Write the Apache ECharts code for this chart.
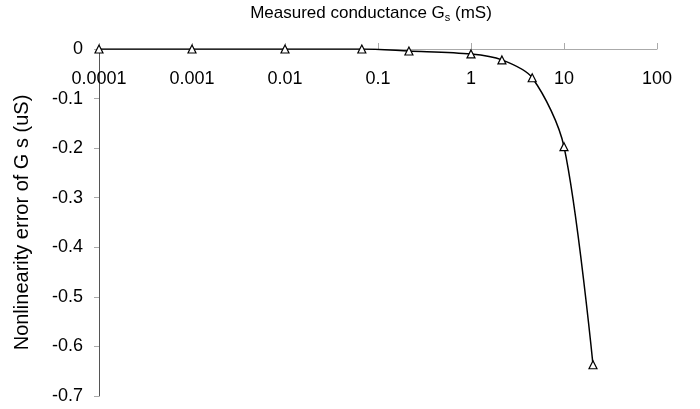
<!DOCTYPE html>
<html>
<head>
<meta charset="utf-8">
<script src="https://cdn.jsdelivr.net/npm/echarts@6/dist/echarts.min.js"></script>
<style>
  html, body { margin: 0; padding: 0; background: #fff; }
  #chart { width: 700px; height: 409px; }
</style>
</head>
<body>
<div id="chart"></div>
<script>
// conductance (mS) and nonlinearity error (uS)
const conductance = [0.0001, 0.001, 0.01, 0.067, 0.215, 1, 2.15, 4.55, 10, 20.5]
const nonlinError = [0, 0, 0, 0, -0.004, -0.01, -0.022, -0.058, -0.197, -0.637]

const chart = echarts.init(document.getElementById('chart'))
const font = '"Liberation Sans", Arial, sans-serif'

chart.setOption({
  animation: false,
  grid: {
    left: 99,
    right: 43,
    top: 47,
    bottom: 13
  },
  xAxis: {
    type: 'log',
    position: 'top',
    min: 0.0001,
    max: 100,
    logBase: 10,
    name: 'Measured conductance G{s|s} (mS)',
    nameLocation: 'middle',
    nameGap: 26,
    nameTextStyle: {
      fontFamily: font,
      fontSize: 17,
      color: '#000',
      padding: [0, 14, 0, 0],
      rich: {
        s: { fontSize: 11, verticalAlign: 'bottom', padding: [8, 0, 0, 0], fontFamily: font, color: '#000' }
      }
    },
    axisLine: { lineStyle: { color: '#aaa', width: 1 } },
    axisTick: { inside: false, length: 6, lineStyle: { color: '#aaa' } },
    axisLabel: {
      inside: true,
      margin: 21,
      fontFamily: font,
      fontSize: 18,
      color: '#000'
    },
    splitLine: { show: false },
    minorTick: { show: false }
  },
  yAxis: {
    type: 'value',
    min: -0.7,
    max: 0,
    interval: 0.1,
    name: 'Nonlinearity error of G s (uS)',
    nameLocation: 'middle',
    nameGap: 67,
    nameRotate: 90,
    nameTextStyle: {
      fontFamily: font,
      fontSize: 20,
      color: '#000'
    },
    axisLine: { show: true, lineStyle: { color: '#555', width: 1 } },
    axisTick: { show: true, length: 5, lineStyle: { color: '#aaa' } },
    axisLabel: {
      margin: 16,
      fontFamily: font,
      fontSize: 18,
      color: '#000',
      formatter: v => (v === 0 ? '0' : v.toFixed(1))
    },
    splitLine: { show: false }
  },
  series: [{
    type: 'line',
    data: conductance.map((c, i) => [c, nonlinError[i]]),
    smooth: 0.3,
    symbol: 'triangle',
    symbolSize: 8,
    showAllSymbol: true,
    lineStyle: { color: '#000', width: 1.5 },
    itemStyle: { color: '#fff', borderColor: '#000', borderWidth: 1.2 },
    z: 3
  }]
})
</script>
</body>
</html>
